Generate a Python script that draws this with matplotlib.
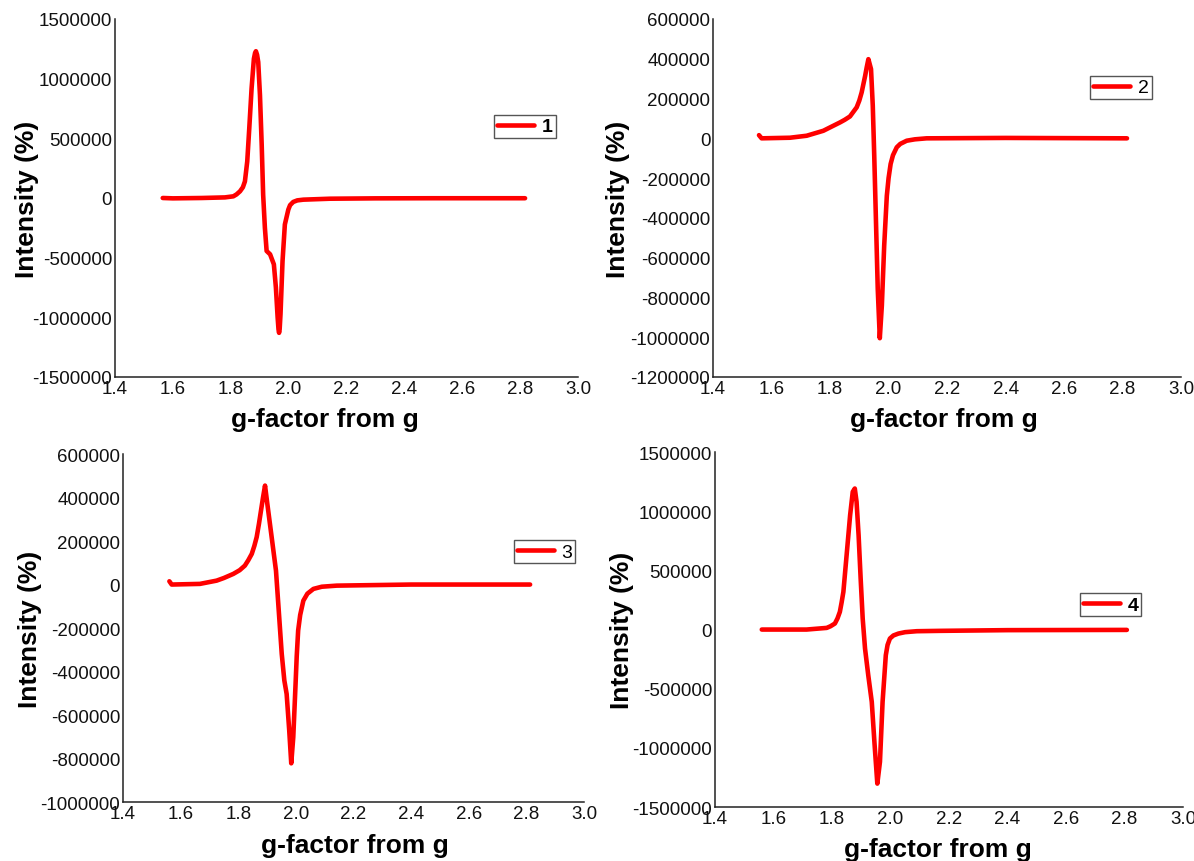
import matplotlib
matplotlib.use("Agg")
import matplotlib.pyplot as plt

plt.rcParams["font.family"] = ["Liberation Sans", "DejaVu Sans"]

# Espectros EPR: factor g frente a intensidad, una muestra por panel
g_1 = [1.565, 1.60, 1.70, 1.78, 1.809, 1.82, 1.832, 1.842, 1.849, 1.857, 1.864, 1.872, 1.880,
       1.884, 1.887, 1.891, 1.895, 1.901, 1.907, 1.912, 1.918, 1.924, 1.936, 1.949, 1.956,
       1.962, 1.965, 1.967, 1.969, 1.972, 1.979, 1.987, 1.999, 2.005, 2.016, 2.03, 2.051,
       2.143, 2.30, 2.50, 2.70, 2.817]
int_1 = [0, -3000, 0, 5000, 14000, 30000, 56000, 90000, 139000, 306000, 583000, 917000, 1167000,
         1215000, 1230000, 1200000, 1139000, 861000, 444000, 28000, -250000, -444000, -472000,
         -556000, -750000, -1000000, -1100000, -1130000, -1100000, -972000, -528000, -222000,
         -97000, -60000, -33000, -20000, -14000, -6000, -3000, -2000, -2000, -2000]

g_2 = [1.557, 1.566, 1.663, 1.720, 1.777, 1.80, 1.834, 1.85, 1.868, 1.891, 1.90, 1.908, 1.920,
       1.925, 1.931, 1.940, 1.946, 1.951, 1.957, 1.963, 1.970, 1.977, 1.985, 1.994, 2.00,
       2.007, 2.015, 2.028, 2.04, 2.062, 2.09, 2.130, 2.40, 2.60, 2.815]
int_2 = [16000, 0, 3000, 13000, 38000, 55000, 80000, 93000, 110000, 156000, 190000, 231000,
         315000, 355000, 398000, 348000, 164000, -87000, -422000, -758000, -1005000, -841000,
         -540000, -289000, -200000, -129000, -85000, -45000, -28000, -12000, -5000, 0, 2000,
         1000, 0]

g_3 = [1.561, 1.569, 1.667, 1.725, 1.75, 1.783, 1.805, 1.823, 1.835, 1.847, 1.856, 1.864,
       1.872, 1.879, 1.886, 1.893, 1.901, 1.916, 1.931, 1.939, 1.951, 1.960, 1.968, 1.977,
       1.984, 1.991, 1.999, 2.003, 2.008, 2.015, 2.026, 2.04, 2.061, 2.09, 2.142, 2.40, 2.60,
       2.813]
int_3 = [15000, 0, 3000, 18000, 30000, 49000, 66000, 87000, 112000, 141000, 178000, 218000,
         280000, 340000, 400000, 455000, 371000, 218000, 64000, -89000, -319000, -441000,
         -503000, -671000, -822000, -702000, -457000, -330000, -211000, -140000, -74000,
         -42000, -20000, -10000, -5000, 0, 0, 0]

g_4 = [1.560, 1.713, 1.782, 1.795, 1.810, 1.819, 1.827, 1.833, 1.839, 1.850, 1.862, 1.871,
       1.878, 1.884, 1.891, 1.898, 1.905, 1.913, 1.924, 1.936, 1.945, 1.955, 1.964, 1.973,
       1.984, 1.99, 1.998, 2.01, 2.027, 2.05, 2.090, 2.169, 2.40, 2.60, 2.808]
int_4 = [0, 0, 14000, 28000, 51000, 95000, 150000, 230000, 319000, 628000, 966000, 1164000,
         1192000, 1080000, 797000, 431000, 93000, -161000, -386000, -611000, -949000, -1302000,
         -1118000, -611000, -217000, -130000, -76000, -50000, -34000, -22000, -14000, -11000,
         -5000, -4000, -3000]

x_ticks = [1.4, 1.6, 1.8, 2.0, 2.2, 2.4, 2.6, 2.8, 3.0]
y_ticks_1 = [-1500000, -1000000, -500000, 0, 500000, 1000000, 1500000]
y_ticks_2 = [-1200000, -1000000, -800000, -600000, -400000, -200000, 0, 200000, 400000, 600000]
y_ticks_3 = [-1000000, -800000, -600000, -400000, -200000, 0, 200000, 400000, 600000]
y_ticks_4 = [-1500000, -1000000, -500000, 0, 500000, 1000000, 1500000]


def dibujar_panel(fig, rect, g, intensidad, y_ticks, etiqueta, negrita, pos_leyenda, pos_xlabel, pos_ylabel):
    ax = fig.add_axes(rect)
    ax.plot(g, intensidad, color="#ff0000", linewidth=3.3, label=etiqueta,
            solid_capstyle="round", solid_joinstyle="round")

    ax.set_xlim(1.4, 3.0)
    ax.set_ylim(y_ticks[0], y_ticks[-1])
    ax.set_xticks(x_ticks)
    ax.set_xticklabels([f"{v:.1f}" for v in x_ticks])
    ax.set_yticks(y_ticks)
    ax.set_yticklabels([str(v) for v in y_ticks])
    ax.tick_params(length=0, labelsize=13.5, pad=2, colors="#111111")

    for lado in ("top", "right"):
        ax.spines[lado].set_visible(False)
    for lado in ("left", "bottom"):
        ax.spines[lado].set_linewidth(1.1)
        ax.spines[lado].set_color("#222222")

    ax.set_xlabel("g-factor from g", fontsize=19, fontweight="bold")
    ax.set_ylabel("Intensity (%)", fontsize=19, fontweight="bold")
    ax.xaxis.set_label_coords(*pos_xlabel)
    ax.yaxis.set_label_coords(*pos_ylabel)

    leg = ax.legend(loc="upper left", bbox_to_anchor=pos_leyenda, fontsize=14,
                    handlelength=1.9, handletextpad=0.4, borderpad=0.15,
                    borderaxespad=0, fancybox=False, framealpha=1, edgecolor="#555555")
    leg.get_frame().set_linewidth(1.0)
    if negrita:
        for t in leg.get_texts():
            t.set_fontweight("bold")
    return ax


fig = plt.figure(figsize=(11.94, 8.62), dpi=100)

dibujar_panel(fig, [0.0963, 0.5615, 0.3878, 0.4153], g_1, int_1, y_ticks_1, "1", True,
              (0.819, 0.732), (0.454, -0.083), (-0.165, 0.5))
dibujar_panel(fig, [0.5972, 0.5615, 0.3920, 0.4153], g_2, int_2, y_ticks_2, "2", False,
              (0.806, 0.841), (0.494, -0.083), (-0.177, 0.5))
dibujar_panel(fig, [0.1030, 0.0684, 0.3861, 0.4037], g_3, int_3, y_ticks_3, "3", False,
              (0.848, 0.753), (0.503, -0.09), (-0.176, 0.5))
dibujar_panel(fig, [0.5988, 0.0626, 0.3920, 0.4118], g_4, int_4, y_ticks_4, "4", True,
              (0.780, 0.603), (0.476, -0.085), (-0.173, 0.5))

fig.savefig("out.png", dpi=100)
